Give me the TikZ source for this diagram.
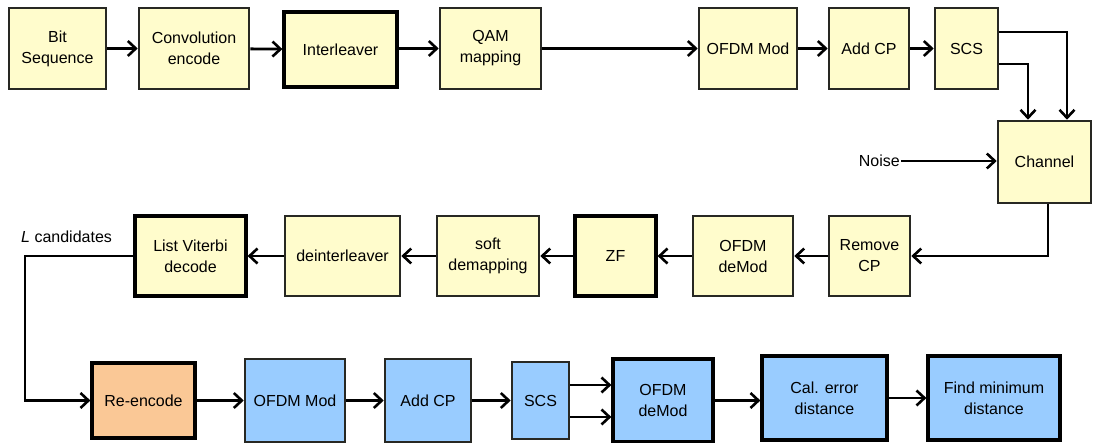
\documentclass[tikz,border=0pt]{standalone}
\usepackage{fontspec}
\setmainfont{Liberation Sans}
\usetikzlibrary{arrows.meta}
\definecolor{yfill}{RGB}{255,252,204}
\definecolor{bfill}{RGB}{153,204,255}
\definecolor{ofill}{RGB}{250,200,150}
\definecolor{bord}{RGB}{40,40,35}
\begin{document}
\begin{tikzpicture}[x=1pt,y=-1pt,
  box/.style={draw=bord, line width=2.6pt, align=center, inner sep=0pt,
    font=\fontsize{16}{21}\selectfont},
  ybox/.style={box, fill=yfill},
  bbox/.style={box, fill=bfill},
  obox/.style={box, fill=ofill},
  thick box/.style={draw=black, line width=3.2pt},
  arr/.style={line width=2.8pt, -{Straight Barb[length=8pt,width=15pt,line width=2.6pt]}}]
\useasboundingbox (0,0) rectangle (1093,443);
\fill[white] (0,0) rectangle (1093,443);
% row 1
\node[ybox, minimum width=97pt, minimum height=81pt] (bit) at (57.5,48.5) {Bit\\Sequence};
\node[ybox, minimum width=110pt, minimum height=81pt] (conv) at (194,48.5) {Convolution\\encode};
\node[ybox, thick box, minimum width=113pt, minimum height=75pt] (inter) at (340.5,49.5) {Interleaver};
\node[ybox, minimum width=101pt, minimum height=81pt] (qam) at (490.5,48.5) {QAM\\mapping};
\node[ybox, minimum width=98pt, minimum height=81pt] (ofdm1) at (748,48.5) {OFDM Mod};
\node[ybox, minimum width=80pt, minimum height=81pt] (addcp1) at (869,48.5) {Add CP};
\node[ybox, minimum width=63pt, minimum height=81pt] (scs1) at (966.5,48.5) {SCS};
\node[ybox, minimum width=93pt, minimum height=82pt] (chan) at (1044.5,162) {Channel};
\node[font=\fontsize{16}{21}\selectfont, anchor=east, inner sep=1pt] (noise) at (901,161) {Noise};
% row 2
\node[ybox, thick box, minimum width=111pt, minimum height=80pt] (lv) at (190.5,256) {List Viterbi\\decode};
\node[ybox, minimum width=115pt, minimum height=80pt] (deint) at (342.5,256) {deinterleaver};
\node[ybox, minimum width=102pt, minimum height=80pt] (soft) at (488,256) {soft\\demapping};
\node[ybox, thick box, minimum width=81pt, minimum height=80pt] (zf) at (615.5,256) {ZF};
\node[ybox, minimum width=100pt, minimum height=80pt] (ofdmd) at (743,256) {OFDM\\deMod};
\node[ybox, minimum width=81pt, minimum height=80pt] (rmcp) at (869.5,256) {Remove\\CP};
\node[font=\fontsize{16}{21}\selectfont, anchor=west, inner sep=0pt] (lcand) at (21,237) {\textit{L} candidates};
% row 3
\node[obox, thick box, minimum width=103pt, minimum height=75pt] (reenc) at (143.5,400.5) {Re-encode};
\node[bbox, minimum width=100pt, minimum height=83pt] (ofdm2) at (295,400.5) {OFDM Mod};
\node[bbox, minimum width=86pt, minimum height=83pt] (addcp2) at (428,400.5) {Add CP};
\node[bbox, minimum width=57pt, minimum height=77pt] (scs2) at (540.5,400.5) {SCS};
\node[bbox, thick box, minimum width=100pt, minimum height=83pt] (ofdmd2) at (663,400.5) {OFDM\\deMod};
\node[bbox, thick box, minimum width=125pt, minimum height=84pt] (cal) at (824.5,398) {Cal. error\\distance};
\node[bbox, thick box, minimum width=132pt, minimum height=84pt] (find) at (994,398) {Find minimum\\distance};
% connectors row 1
\draw[arr] (bit) -- (conv);
\draw[arr] (conv) -- (inter);
\draw[arr] (inter.east |- qam.west) -- (qam);
\draw[arr] (qam) -- (ofdm1);
\draw[arr] (ofdm1) -- (addcp1);
\draw[arr] (addcp1) -- (scs1);
\coordinate (s1a) at ([yshift=16.5pt]scs1.east);
\coordinate (s1b) at ([yshift=-15.5pt]scs1.east);
\coordinate (cha) at ([xshift=22.5pt]chan.north);
\coordinate (chb) at ([xshift=-16.5pt]chan.north);
\draw[arr] (s1a) -| (cha);
\draw[arr] (s1b) -| (chb);
\draw[arr] (noise.east) -- (noise.east -| chan.west);
% row 2
\coordinate (chs) at ([xshift=3.5pt]chan.south);
\draw[arr] (chs) |- (rmcp.east);
\draw[arr] (rmcp) -- (ofdmd);
\draw[arr] (ofdmd) -- (zf);
\draw[arr] (zf) -- (soft);
\draw[arr] (soft) -- (deint);
\draw[arr] (deint) -- (lv);
\coordinate (lc) at (25,0);
\draw[arr] (lv.west) -| (lc |- reenc.west) -- (reenc.west);
% row 3
\draw[arr] (reenc) -- (ofdm2);
\draw[arr] (ofdm2) -- (addcp2);
\draw[arr] (addcp2) -- (scs2);
\coordinate (s2a) at ([yshift=15.5pt]scs2.east);
\coordinate (s2b) at ([yshift=-16.5pt]scs2.east);
\draw[arr] (s2a) -- (s2a -| ofdmd2.west);
\draw[arr] (s2b) -- (s2b -| ofdmd2.west);
\draw[arr] (ofdmd2.east) -- (ofdmd2.east -| cal.west);
\draw[arr] (cal) -- (find);
\end{tikzpicture}
\end{document}
